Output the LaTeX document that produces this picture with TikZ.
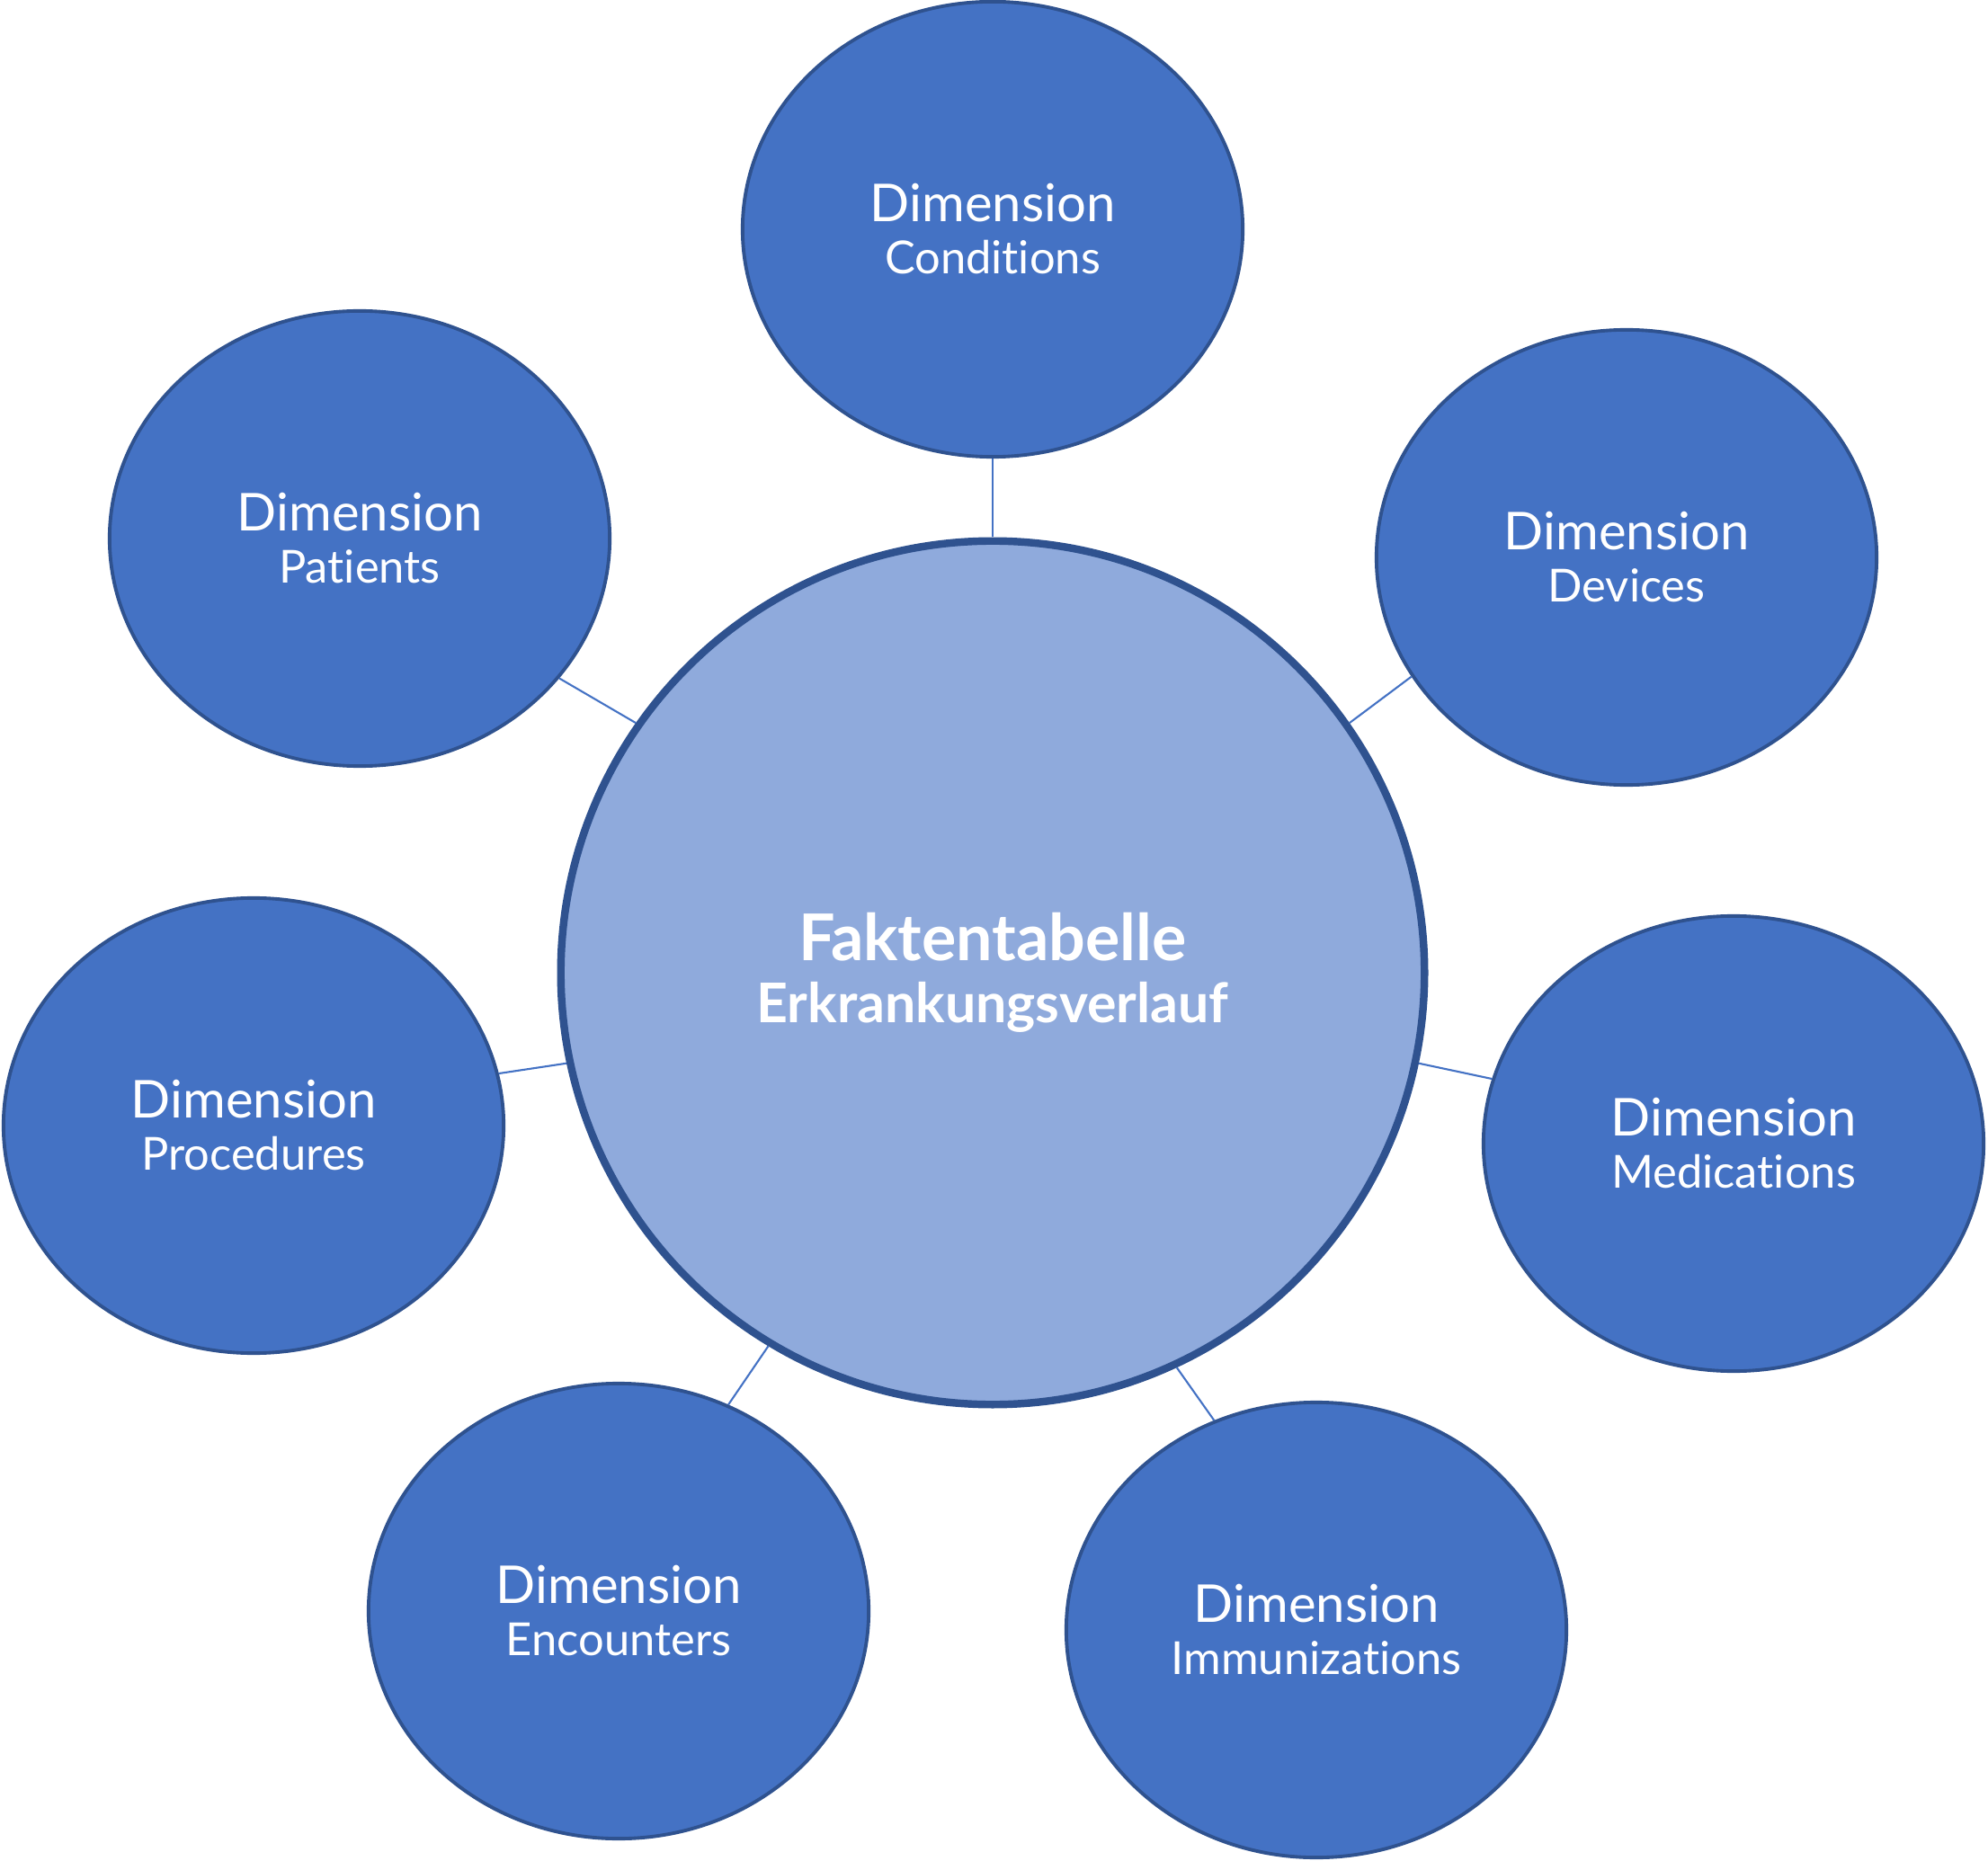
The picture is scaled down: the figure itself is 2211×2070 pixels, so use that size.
\documentclass[tikz,border=0pt]{standalone}
\usepackage{fontspec}
\setmainfont{Lato}[Ligatures=NoCommon]
\usetikzlibrary{shapes.geometric}
\definecolor{dimfill}{HTML}{4472C4}
\definecolor{dimline}{HTML}{2F528F}
\definecolor{factfill}{HTML}{8FAADC}
\begin{document}
\begin{tikzpicture}[x=0.01cm,y=-0.01cm,
  dimnode/.style={ellipse,draw=dimline,line width=1.1pt,fill=dimfill,
    minimum width=5.56cm,minimum height=5.06cm,inner sep=0pt,
    text=white,align=center,font=\fontsize{16.5}{18.5}\selectfont},
  factnode/.style={circle,draw=dimline,line width=2.4pt,fill=factfill,
    minimum size=9.6cm,inner sep=0pt,text=white,align=center,
    font=\fontsize{20.4}{19.5}\selectfont\bfseries},
  link/.style={draw=dimfill,line width=0.6pt}]
\useasboundingbox (0,0) rectangle (2211,2070);

% central fact table
\node[factnode] (fact) at (1104,1082)
  {Faktentabelle\\{\fontsize{17.3}{19.5}\selectfont Erkrankungsverlauf}};

% dimension tables
\newcommand{\dimtext}[1]{Dimension\\[-2pt]{\fontsize{14.4}{16}\selectfont #1}}
\node[dimnode] (cond) at (1104,255)  {\dimtext{Conditions}};
\node[dimnode] (dev)  at (1809,620)  {\dimtext{Devices}};
\node[dimnode] (med)  at (1928,1272) {\dimtext{Medications}};
\node[dimnode] (imm)  at (1464,1813) {\dimtext{Immunizations}};
\node[dimnode] (enc)  at (688,1792)  {\dimtext{Encounters}};
\node[dimnode] (proc) at (282,1252)  {\dimtext{Procedures}};
\node[dimnode] (pat)  at (400,599)   {\dimtext{Patients}};

% connectors
\draw[link] (fact.90)    -- (cond.270);
\draw[link] (fact.35)    -- (dev.209.9);
\draw[link] (fact.-12.3) -- (med.165);
\draw[link] (fact.-65.4) -- (imm.116.4);
\draw[link] (fact.239.1) -- (enc.62.2);
\draw[link] (fact.192)   -- (proc.12.2);
\draw[link] (fact.145)   -- (pat.-35.6);
\end{tikzpicture}
\end{document}
